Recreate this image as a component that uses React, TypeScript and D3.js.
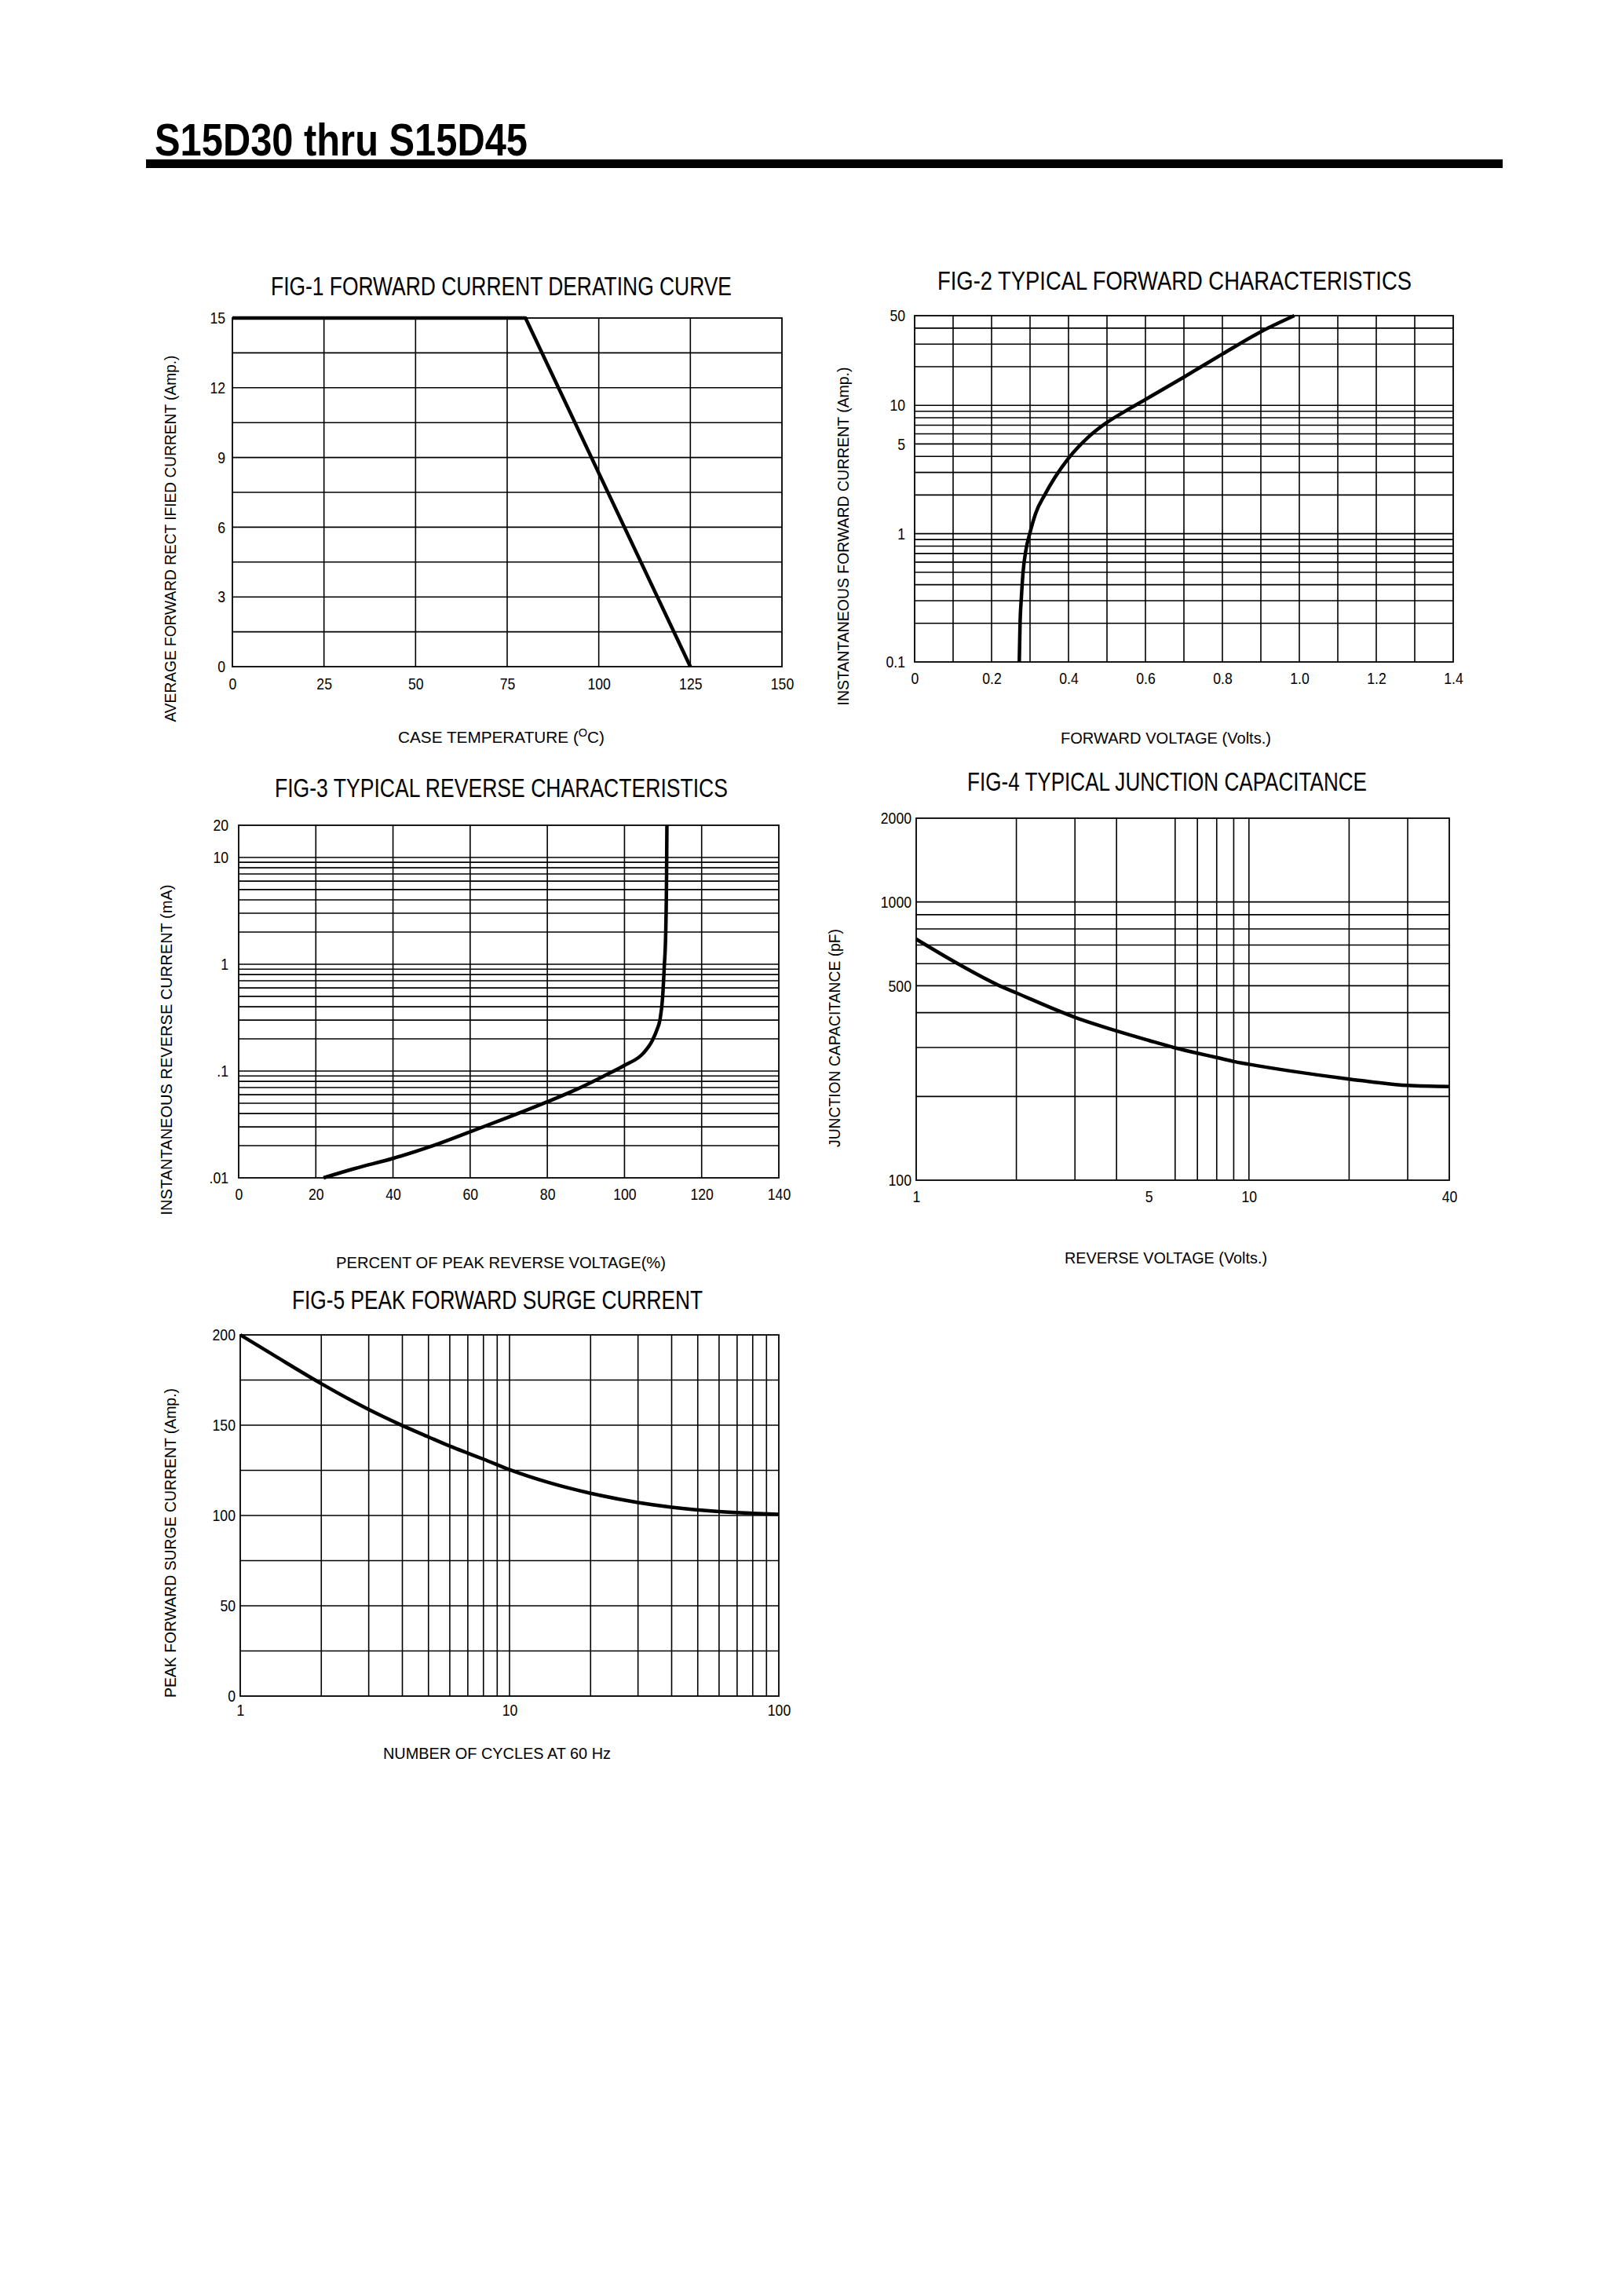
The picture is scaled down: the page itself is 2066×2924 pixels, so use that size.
import { useRef, useEffect } from 'react'
import * as d3 from 'd3'

const FONT = "'Liberation Sans Narrow', 'Arial Narrow', 'Liberation Sans', Arial, sans-serif"

// FIG-1 forward current derating curve
const derTemp = [0, 80, 125]
const derCurrent = [15, 15, 0]
const derXTicks = [0, 25, 50, 75, 100, 125, 150]
const derXLabels = ['0', '25', '50', '75', '100', '125', '150']
const derYTicks = [0, 3, 6, 9, 12, 15]
const derYLabels = ['0', '3', '6', '9', '12', '15']
const derXGrid = [25, 50, 75, 100, 125]
const derYGrid = [1.5, 3, 4.5, 6, 7.5, 9, 10.5, 12, 13.5]

// FIG-2 typical forward characteristics
const fwdVoltage = [0.272, 0.274, 0.2774, 0.282, 0.289, 0.3, 0.315, 0.338, 0.365, 0.4, 0.45, 0.5, 0.55, 0.6, 0.7, 0.8, 0.9, 0.987]
const fwdCurrent = [0.1, 0.196, 0.315, 0.505, 0.736, 1.02, 1.45, 2.0, 2.75, 3.87, 5.6, 7.36, 9.1, 11.1, 16.6, 25.1, 37.5, 50]
const fwdXTicks = [0, 0.2, 0.4, 0.6, 0.8, 1.0, 1.2, 1.4]
const fwdXLabels = ['0', '0.2', '0.4', '0.6', '0.8', '1.0', '1.2', '1.4']
const fwdYTicks = [0.1, 1, 5, 10, 50]
const fwdYLabels = ['0.1', '1', '5', '10', '50']
const fwdXGrid = [0.1, 0.2, 0.3, 0.4, 0.5, 0.6, 0.7, 0.8, 0.9, 1.0, 1.1, 1.2, 1.3]
const fwdYGrid = [0.2, 0.3, 0.4, 0.5, 0.6, 0.7, 0.8, 0.9, 1, 2, 3, 4, 5, 6, 7, 8, 9, 10, 20, 30, 40]

// FIG-3 typical reverse characteristics
const revPercent = [22, 30, 40, 50, 60, 70, 80, 87.2, 94.7, 100, 104.8, 107.2, 108.5, 109.2, 109.9, 110.3, 110.7, 110.9, 111]
const revCurrent = [0.01, 0.0122, 0.0152, 0.0198, 0.027, 0.037, 0.0515, 0.0664, 0.09, 0.113, 0.146, 0.193, 0.248, 0.302, 0.5, 0.93, 2.04, 6.3, 20]
const revXTicks = [0, 20, 40, 60, 80, 100, 120, 140]
const revXLabels = ['0', '20', '40', '60', '80', '100', '120', '140']
const revYTicks = [0.01, 0.1, 1, 10, 20]
const revYLabels = ['.01', '.1', '1', '10', '20']
const revXGrid = [20, 40, 60, 80, 100, 120]
const revYGrid = [0.02, 0.03, 0.04, 0.05, 0.06, 0.07, 0.08, 0.09, 0.1, 0.2, 0.3, 0.4, 0.5, 0.6, 0.7, 0.8, 0.9, 1, 2, 3, 4, 5, 6, 7, 8, 9, 10]

// FIG-4 typical junction capacitance
const capVoltage = [1, 1.33, 1.78, 2, 3, 4, 5, 6, 7, 8, 9, 10, 13.3, 20, 30, 40]
const capPf = [735, 601, 500, 471, 385, 344, 318, 299, 286, 276, 267, 261, 247, 231, 219, 217]
const capXTicks = [1, 5, 10, 40]
const capXLabels = ['1', '5', '10', '40']
const capYTicks = [100, 500, 1000, 2000]
const capYLabels = ['100', '500', '1000', '2000']
const capXGrid = [2, 3, 4, 6, 7, 8, 9, 10, 20, 30]
const capYGrid = [200, 300, 400, 500, 600, 700, 800, 900, 1000]

// FIG-5 peak forward surge current
const surgeCycles = [1, 1.34, 2, 3, 3.92, 5, 6, 7, 8, 10, 14.1, 20, 30, 40, 60, 80, 100]
const surgeCurrent = [200, 188.5, 173, 158.7, 150.4, 143.5, 138.4, 134.5, 131.2, 125.4, 118.1, 112.3, 107.2, 104.6, 102.2, 101.2, 100.6]
const surgeXTicks = [1, 10, 100]
const surgeXLabels = ['1', '10', '100']
const surgeYTicks = [0, 50, 100, 150, 200]
const surgeYLabels = ['0', '50', '100', '150', '200']
const surgeXGrid = [2, 3, 4, 5, 6, 7, 8, 9, 10, 20, 30, 40, 50, 60, 70, 80, 90]
const surgeYGrid = [25, 50, 75, 100, 125, 150, 175]

type Panel = {
  title: string
  xTitle: string
  yTitle: string
  xScale: any
  yScale: any
  box: [number, number, number, number]
  titlePos: [number, number, number]
  xTitlePos: [number, number, number]
  yTitlePos: [number, number, number]
  xs: number[]
  ys: number[]
  curve: any
  xTicks: number[]
  xLabels: string[]
  yTicks: number[]
  yLabels: string[]
  xGrid: number[]
  yGrid: number[]
  xPad: number
  yPad: number
  superO?: boolean
}

// narrow the tick digits like the scanned sheet
function squeeze(sel: any) {
  sel.each(function (this: SVGTextElement) {
    const w = this.getComputedTextLength()
    d3.select(this).attr('textLength', w * 0.84).attr('lengthAdjust', 'spacingAndGlyphs')
  })
}

function drawPanel(root: any, p: Panel) {
  const [left, top, right, bottom] = p.box
  const x = p.xScale.range([left, right])
  const y = p.yScale.range([bottom, top])
  const g = root.append('g')

  // Grid
  g.selectAll('.vgrid')
    .data(p.xGrid)
    .enter()
    .append('line')
    .attr('x1', (d: number) => x(d))
    .attr('x2', (d: number) => x(d))
    .attr('y1', top)
    .attr('y2', bottom)
    .attr('stroke', '#000')
    .attr('stroke-width', 1.6)

  g.selectAll('.hgrid')
    .data(p.yGrid)
    .enter()
    .append('line')
    .attr('x1', left)
    .attr('x2', right)
    .attr('y1', (d: number) => y(d))
    .attr('y2', (d: number) => y(d))
    .attr('stroke', '#000')
    .attr('stroke-width', 1.6)

  g.append('rect')
    .attr('x', left)
    .attr('y', top)
    .attr('width', right - left)
    .attr('height', bottom - top)
    .attr('fill', 'none')
    .attr('stroke', '#000')
    .attr('stroke-width', 1.8)

  // Axes
  g.append('g')
    .attr('transform', `translate(0,${bottom})`)
    .call(
      d3
        .axisBottom(x)
        .tickValues(p.xTicks)
        .tickFormat((_: any, i: number) => p.xLabels[i])
        .tickSize(0)
        .tickPadding(p.xPad),
    )
    .call((a: any) => a.select('.domain').remove())
    .selectAll('text')
    .attr('fill', '#000')
    .attr('font-size', 21)
    .attr('font-family', FONT)
    .call(squeeze)

  g.append('g')
    .attr('transform', `translate(${left},0)`)
    .call(
      d3
        .axisLeft(y)
        .tickValues(p.yTicks)
        .tickFormat((_: any, i: number) => p.yLabels[i])
        .tickSize(0)
        .tickPadding(p.yPad),
    )
    .call((a: any) => a.select('.domain').remove())
    .selectAll('text')
    .attr('fill', '#000')
    .attr('font-size', 21)
    .attr('font-family', FONT)
    .call(squeeze)

  // Curve
  const line = d3
    .line<number>()
    .x((_, i) => x(p.xs[i]))
    .y((d) => y(d))
    .curve(p.curve)

  g.append('path')
    .datum(p.ys)
    .attr('fill', 'none')
    .attr('stroke', '#000')
    .attr('stroke-width', 4.5)
    .attr('stroke-linejoin', 'round')
    .attr('d', line)

  // Titles
  g.append('text')
    .attr('x', p.titlePos[0])
    .attr('y', p.titlePos[2])
    .attr('textLength', p.titlePos[1])
    .attr('lengthAdjust', 'spacingAndGlyphs')
    .attr('font-size', 33)
    .attr('font-family', FONT)
    .attr('fill', '#000')
    .text(p.title)

  const xt = g
    .append('text')
    .attr('x', p.xTitlePos[0])
    .attr('y', p.xTitlePos[2])
    .attr('textLength', p.xTitlePos[1])
    .attr('lengthAdjust', 'spacingAndGlyphs')
    .attr('font-size', 20)
    .attr('font-family', FONT)
    .attr('fill', '#000')
  if (p.superO) {
    xt.append('tspan').text(p.xTitle + ' (')
    xt.append('tspan').attr('dy', -8).attr('font-size', 14).text('O')
    xt.append('tspan').attr('dy', 8).text('C)')
  } else {
    xt.text(p.xTitle)
  }

  g.append('text')
    .attr('transform', `translate(${p.yTitlePos[0]},${p.yTitlePos[1]}) rotate(-90)`)
    .attr('text-anchor', 'middle')
    .attr('dy', '0.35em')
    .attr('textLength', p.yTitlePos[2])
    .attr('lengthAdjust', 'spacingAndGlyphs')
    .attr('font-size', 21)
    .attr('font-family', FONT)
    .attr('fill', '#000')
    .text(p.yTitle)
}

export default function App() {
  const svgRef = useRef<SVGSVGElement>(null)

  useEffect(() => {
    if (!svgRef.current) return
    const svg = d3.select(svgRef.current)
    svg.selectAll('*').remove()

    svg.append('rect').attr('width', 2066).attr('height', 2924).attr('fill', '#fff')

    // Header
    svg
      .append('text')
      .attr('x', 197)
      .attr('y', 198)
      .attr('textLength', 475)
      .attr('lengthAdjust', 'spacingAndGlyphs')
      .attr('font-size', 57)
      .attr('font-weight', 'bold')
      .attr('font-family', FONT)
      .text('S15D30 thru S15D45')
    svg.append('rect').attr('x', 186).attr('y', 203).attr('width', 1728).attr('height', 11).attr('fill', '#000')

    const panels: Panel[] = [
      {
        title: 'FIG-1 FORWARD CURRENT DERATING CURVE',
        xTitle: 'CASE TEMPERATURE',
        yTitle: 'AVERAGE FORWARD RECT IFIED CURRENT (Amp.)',
        xScale: d3.scaleLinear().domain([0, 150]),
        yScale: d3.scaleLinear().domain([0, 15]),
        box: [296, 405, 996, 849],
        titlePos: [345, 587, 376],
        xTitlePos: [507, 263, 946],
        yTitlePos: [217, 686, 467],
        xs: derTemp,
        ys: derCurrent,
        curve: d3.curveLinear,
        xTicks: derXTicks,
        xLabels: derXLabels,
        yTicks: derYTicks,
        yLabels: derYLabels,
        xGrid: derXGrid,
        yGrid: derYGrid,
        xPad: 14,
        yPad: 9,
        superO: true,
      },
      {
        title: 'FIG-2 TYPICAL FORWARD CHARACTERISTICS',
        xTitle: 'FORWARD VOLTAGE (Volts.)',
        yTitle: 'INSTANTANEOUS FORWARD CURRENT (Amp.)',
        xScale: d3.scaleLinear().domain([0, 1.4]),
        yScale: d3.scaleLog().domain([0.1, 50]),
        box: [1165, 402, 1851, 843],
        titlePos: [1194, 604, 369],
        xTitlePos: [1351, 268, 947],
        yTitlePos: [1074, 683, 431],
        xs: fwdVoltage,
        ys: fwdCurrent,
        curve: d3.curveMonotoneX,
        xTicks: fwdXTicks,
        xLabels: fwdXLabels,
        yTicks: fwdYTicks,
        yLabels: fwdYLabels,
        xGrid: fwdXGrid,
        yGrid: fwdYGrid,
        xPad: 13,
        yPad: 12,
      },
      {
        title: 'FIG-3 TYPICAL REVERSE CHARACTERISTICS',
        xTitle: 'PERCENT OF PEAK REVERSE VOLTAGE(%)',
        yTitle: 'INSTANTANEOUS REVERSE CURRENT (mA)',
        xScale: d3.scaleLinear().domain([0, 140]),
        yScale: d3.scaleLog().domain([0.01, 20]),
        box: [304, 1051, 992, 1500],
        titlePos: [350, 577, 1015],
        xTitlePos: [428, 420, 1615],
        yTitlePos: [212, 1337, 421],
        xs: revPercent,
        ys: revCurrent,
        curve: d3.curveMonotoneX,
        xTicks: revXTicks,
        xLabels: revXLabels,
        yTicks: revYTicks,
        yLabels: revYLabels,
        xGrid: revXGrid,
        yGrid: revYGrid,
        xPad: 13,
        yPad: 13,
      },
      {
        title: 'FIG-4 TYPICAL JUNCTION CAPACITANCE',
        xTitle: 'REVERSE VOLTAGE (Volts.)',
        yTitle: 'JUNCTION CAPACITANCE (pF)',
        xScale: d3.scaleLog().domain([1, 40]),
        yScale: d3.scaleLog().domain([100, 2000]),
        box: [1167, 1042, 1846, 1503],
        titlePos: [1232, 509, 1007],
        xTitlePos: [1356, 258, 1609],
        yTitlePos: [1063, 1322, 278],
        xs: capVoltage,
        ys: capPf,
        curve: d3.curveMonotoneX,
        xTicks: capXTicks,
        xLabels: capXLabels,
        yTicks: capYTicks,
        yLabels: capYLabels,
        xGrid: capXGrid,
        yGrid: capYGrid,
        xPad: 13,
        yPad: 6,
      },
      {
        title: 'FIG-5 PEAK FORWARD SURGE CURRENT',
        xTitle: 'NUMBER OF CYCLES AT 60 Hz',
        yTitle: 'PEAK FORWARD SURGE CURRENT (Amp.)',
        xScale: d3.scaleLog().domain([1, 100]),
        yScale: d3.scaleLinear().domain([0, 200]),
        box: [306, 1700, 992, 2160],
        titlePos: [372, 523, 1667],
        xTitlePos: [488, 290, 2240],
        yTitlePos: [217, 1965, 394],
        xs: surgeCycles,
        ys: surgeCurrent,
        curve: d3.curveMonotoneX,
        xTicks: surgeXTicks,
        xLabels: surgeXLabels,
        yTicks: surgeYTicks,
        yLabels: surgeYLabels,
        xGrid: surgeXGrid,
        yGrid: surgeYGrid,
        xPad: 10,
        yPad: 6,
      },
    ]

    panels.forEach((p) => drawPanel(svg, p))
  }, [])

  return (
    <svg
      ref={svgRef}
      width={2066}
      height={2924}
      style={{ position: 'absolute', left: 0, top: 0, background: '#fff' }}
    />
  )
}
